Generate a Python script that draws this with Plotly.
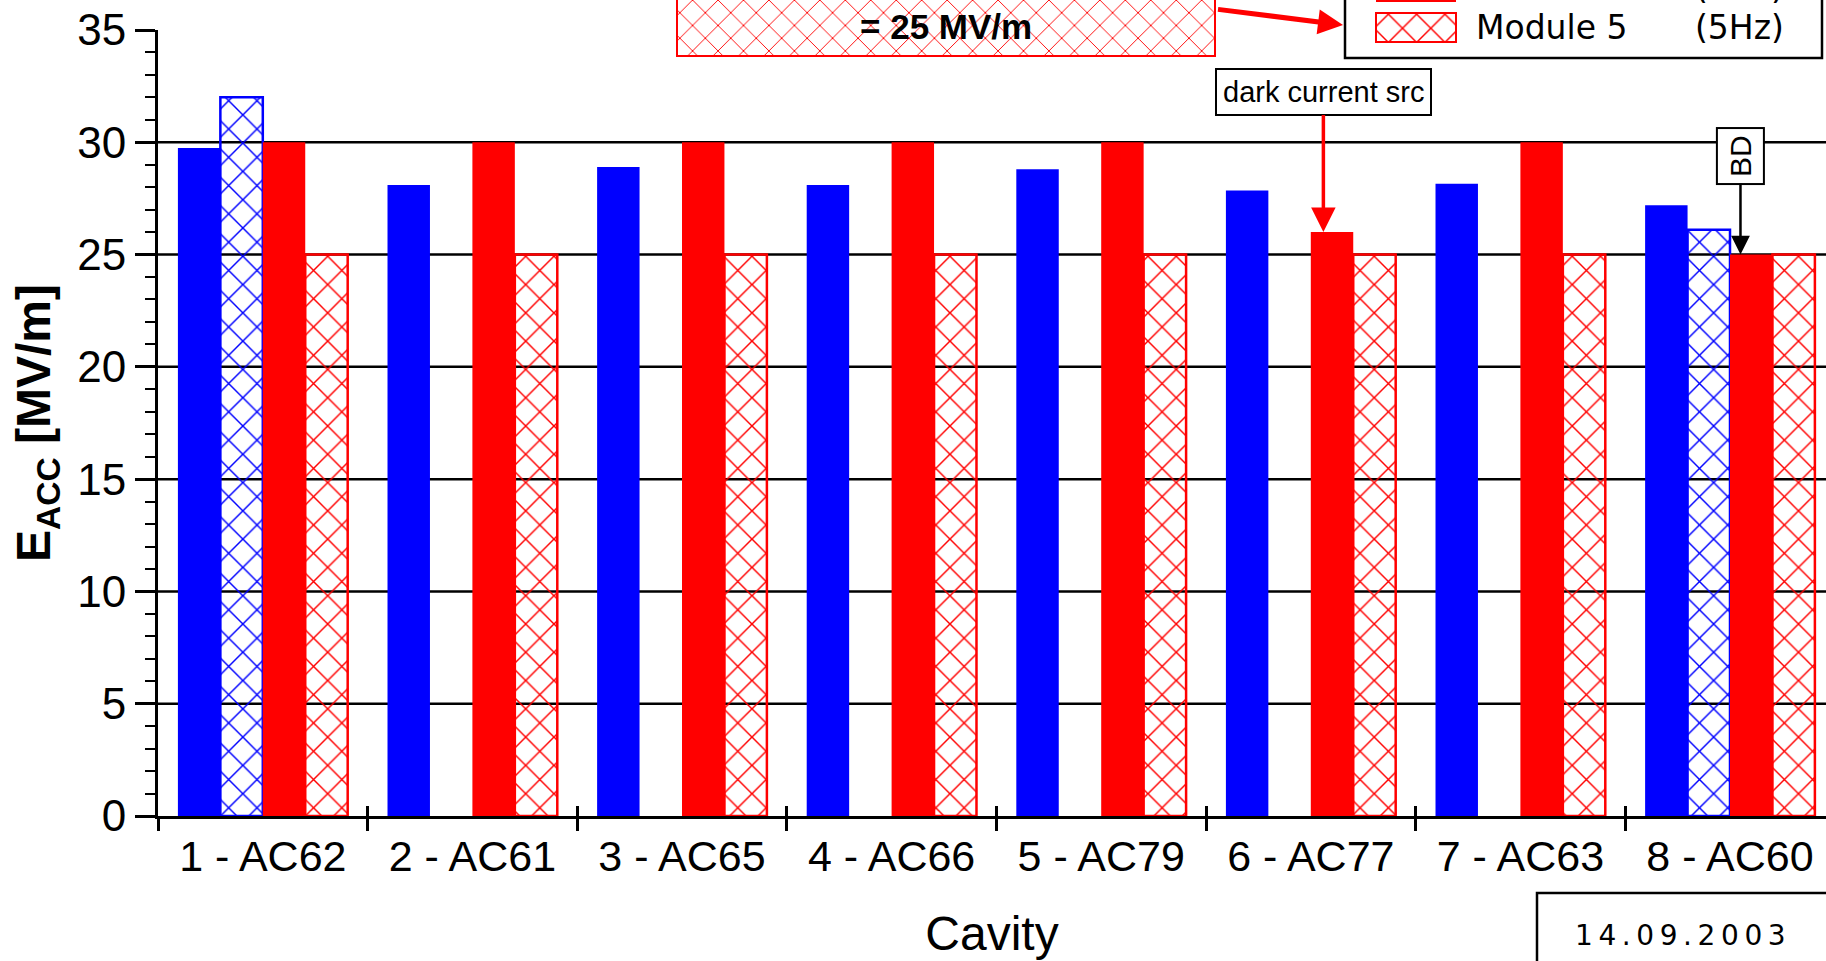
import plotly.graph_objects as go

# ---------------- data ----------------
categories = ["1 - AC62", "2 - AC61", "3 - AC65", "4 - AC66",
              "5 - AC79", "6 - AC77", "7 - AC63", "8 - AC60"]
vertical_test = [29.75, 28.1, 28.9, 28.1, 28.8, 27.85, 28.15, 27.2]
horizontal_test = [32.0, None, None, None, None, None, None, 26.1]
module5_1hz = [30, 30, 30, 30, 30, 26, 30, 25]
module5_5hz = [25, 25, 25, 25, 25, 25, 25, 25]

series_names = ["Vertical test", "CHECHIA", "Module 5", "Module 5"]
series_rates = ["", "", "(1Hz)", "(5Hz)"]
y_ticks = [0, 5, 10, 15, 20, 25, 30, 35]
grid_vals = [5, 10, 15, 20, 25, 30]

BLUE = "#0000FF"
RED = "#FF0000"
FONT = "Liberation Sans, Arial, sans-serif"

# geometry of figure (pixels)
W, H = 1826, 961
ML, MR, MT, MB = 158, 0, 0, 145
PLOT_TOP = 30                      # pixel row of the y = 35 tick
PW, PH = W - ML - MR, H - MT - MB  # paper area (plot region incl. top strip)
CAT_PX = 209.6
x_span = PW / CAT_PX
x_range = [-0.5, -0.5 + x_span]
y_domain_top = (PH - PLOT_TOP) / PH


def px_x(px):  # figure pixel -> paper fraction
    return (px - ML) / PW


def px_y(py):
    return (H - MB - py) / PH


fig = go.Figure()

pat_blue = dict(shape="x", fgcolor=BLUE, size=20, solidity=0.14, fillmode="replace")
pat_red = dict(shape="x", fgcolor=RED, size=20, solidity=0.14, fillmode="replace")

fig.add_trace(go.Bar(x=categories, y=vertical_test, name="Vertical test",
                     marker=dict(color=BLUE, line=dict(width=0))))
fig.add_trace(go.Bar(x=categories, y=horizontal_test, name="CHECHIA",
                     marker=dict(color=BLUE, line=dict(color=BLUE, width=2.5),
                                 pattern=pat_blue)))
fig.add_trace(go.Bar(x=categories, y=module5_1hz, name="Module 5 (1Hz)",
                     marker=dict(color=RED, line=dict(width=0))))
fig.add_trace(go.Bar(x=categories, y=module5_5hz, name="Module 5 (5Hz)",
                     marker=dict(color=RED, line=dict(color=RED, width=2.5),
                                 pattern=pat_red)))

# ---------------- decorative hatched note box (second subplot in paper fractions) ----
box_l, box_r, box_b, box_t = 677, 1215, 56, -70
fig.add_trace(go.Bar(
    x=[(px_x(box_l) + px_x(box_r)) / 2], y=[px_y(box_t) - px_y(box_b)],
    base=[px_y(box_b)], width=[px_x(box_r) - px_x(box_l)],
    offset=[-(px_x(box_r) - px_x(box_l)) / 2],
    xaxis="x2", yaxis="y2", showlegend=False, hoverinfo="skip",
    marker=dict(color=RED, line=dict(color=RED, width=2),
                pattern=dict(shape="x", fgcolor=RED, size=18, solidity=0.1,
                             fillmode="replace"))))

# ---------------- custom legend swatches ----------------
sw_l, sw_r = 1376, 1456
row_bottom = [-78, -38, 2, 42]
row_h = 29
swatch_style = [
    dict(color=BLUE, line=dict(width=0)),
    dict(color=BLUE, line=dict(color=BLUE, width=2), pattern=pat_blue),
    dict(color=RED, line=dict(width=0)),
    dict(color=RED, line=dict(color=RED, width=2), pattern=pat_red),
]
for i, sty in enumerate(swatch_style):
    yb = row_bottom[i]
    fig.add_trace(go.Bar(
        x=[(px_x(sw_l) + px_x(sw_r)) / 2], y=[px_y(yb - row_h) - px_y(yb)],
        base=[px_y(yb)], width=[px_x(sw_r) - px_x(sw_l)],
        offset=[-(px_x(sw_r) - px_x(sw_l)) / 2],
        xaxis="x2", yaxis="y2", showlegend=False, hoverinfo="skip", marker=sty))

# ---------------- shapes ----------------
shapes = []
for g in grid_vals:
    shapes.append(dict(type="line", xref="paper", yref="y", x0=0, x1=1, y0=g, y1=g,
                       line=dict(color="black", width=2.5), layer="below"))
# legend frame
shapes.append(dict(type="rect", xref="paper", yref="paper",
                   x0=px_x(1345), x1=px_x(1822), y0=px_y(58), y1=px_y(-200),
                   line=dict(color="black", width=2.5), fillcolor="white",
                   layer="below"))
# date frame
shapes.append(dict(type="rect", xref="paper", yref="paper",
                   x0=px_x(1537), x1=px_x(1840), y0=px_y(893), y1=px_y(1000),
                   line=dict(color="black", width=2.5), fillcolor="rgba(0,0,0,0)"))

annotations = []
# legend texts
row_center = [b - row_h / 2 for b in row_bottom]
for i in range(4):
    annotations.append(dict(xref="paper", yref="paper", x=px_x(1474), y=px_y(row_center[i]),
                            xanchor="left", yanchor="middle", showarrow=False,
                            text=series_names[i],
                            font=dict(family="DejaVu Sans", size=33, color="black")))
    if series_rates[i]:
        annotations.append(dict(xref="paper", yref="paper", x=px_x(1693), y=px_y(row_center[i]),
                                xanchor="left", yanchor="middle", showarrow=False,
                                text=series_rates[i],
                                font=dict(family="DejaVu Sans", size=33, color="black")))

# note box text
annotations.append(dict(xref="paper", yref="paper", x=px_x(946), y=px_y(-20),
                        xanchor="center", yanchor="middle",
                        showarrow=False, text="<b>5 Hz operation gradient limited</b>",
                        font=dict(family=FONT, size=35, color="black")))
annotations.append(dict(xref="paper", yref="paper", x=px_x(946), y=px_y(26),
                        xanchor="center", yanchor="middle",
                        showarrow=False, text="<b>= 25 MV/m</b>",
                        font=dict(family=FONT, size=35, color="black")))
# arrow note box -> legend
annotations.append(dict(xref="paper", yref="paper", x=px_x(1343), y=px_y(25),
                        ax=-128, ay=-16, text=" ", showarrow=True,
                        arrowhead=2, arrowsize=1.0, arrowwidth=5, arrowcolor=RED,
                        standoff=0, startstandoff=0))
# dark current src
annotations.append(dict(xref="x", yref="y", x=5.06, y=module5_1hz[5],
                        ax=0, ay=-140, text="dark current src", showarrow=True,
                        arrowhead=2, arrowsize=1.4, arrowwidth=3.5, arrowcolor=RED,
                        bgcolor="white", bordercolor="black", borderwidth=2, borderpad=6,
                        font=dict(family=FONT, size=29, color="black")))
# BD
annotations.append(dict(xref="x", yref="y", x=7.05, y=module5_1hz[7],
                        ax=0, ay=-99, text="BD", textangle=-90, showarrow=True,
                        arrowhead=2, arrowsize=1.5, arrowwidth=2.5, arrowcolor="black",
                        bgcolor="white", bordercolor="black", borderwidth=2, borderpad=6,
                        font=dict(family=FONT, size=30, color="black")))
# date
annotations.append(dict(xref="paper", yref="paper", x=px_x(1680), y=px_y(936),
                        xanchor="center", yanchor="middle",
                        showarrow=False, text="\u2009".join("14.09.2003"),
                        font=dict(family="DejaVu Sans", size=28, color="black")))

# inside parts of the x boundary ticks
inner_ticks = [k / x_span for k in range(1, 8)]

fig.update_layout(
    width=W, height=H,
    margin=dict(l=ML, r=MR, t=MT, b=MB, autoexpand=False),
    paper_bgcolor="white", plot_bgcolor="rgba(0,0,0,0)",
    barmode="group", bargap=0.19, bargroupgap=0,
    showlegend=False,
    font=dict(family=FONT, color="black"),
    shapes=shapes, annotations=annotations,
    xaxis=dict(type="category", range=x_range, tickson="boundaries",
               ticks="outside", ticklen=12, tickwidth=2.5, tickcolor="black",
               showline=True, linecolor="black", linewidth=3, showgrid=False,
               zeroline=False, tickfont=dict(size=43, family=FONT),
               title=dict(text="Cavity", font=dict(size=48, family=FONT), standoff=38)),
    yaxis=dict(domain=[0, y_domain_top], range=[0, 35], tickvals=y_ticks,
               ticks="outside", ticklen=20,
               tickwidth=2.5, tickcolor="black", showline=True, linecolor="black",
               linewidth=3, showgrid=False, zeroline=False,
               minor=dict(dtick=1, tick0=0, ticks="outside", ticklen=10,
                          tickwidth=2, tickcolor="black", showgrid=False),
               tickfont=dict(size=44, family=FONT),
               title=dict(text="<b>E<sub>ACC</sub> [MV/m]</b>",
                          font=dict(size=48, family=FONT), standoff=12)),
    xaxis2=dict(domain=[0, 1], range=[0, 1], showgrid=False, zeroline=False,
                showline=False, showticklabels=False, tickvals=inner_ticks,
                ticks="inside", ticklen=10, tickwidth=2.5, tickcolor="black",
                side="bottom", anchor="y2"),
    yaxis2=dict(domain=[0, 1], range=[0, 1], visible=False, anchor="x2"),
)

fig.write_html("out.html")
